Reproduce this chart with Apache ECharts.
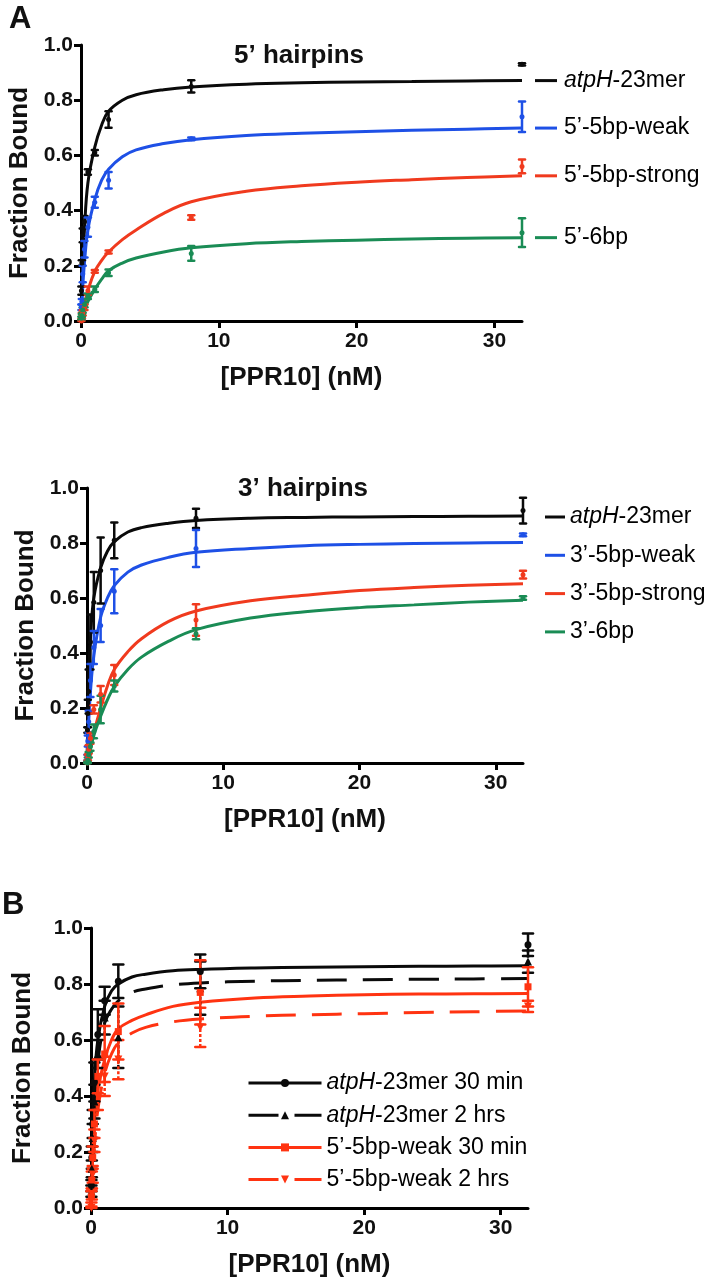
<!DOCTYPE html>
<html><head><meta charset="utf-8">
<script src="https://cdn.jsdelivr.net/npm/echarts@6/dist/echarts.min.js"></script>
<style>html,body{margin:0;padding:0;background:#fff}#c{width:714px;height:1281px}</style>
</head><body><div id="c"></div>
<script>
// ---------- data ----------
const conc = [0.03, 0.06, 0.125, 0.25, 0.5, 1, 2, 8, 32];           // [PPR10] nM (measured points)
const fitX = [0, 0.125, 0.25, 0.5, 1, 1.5, 2, 3, 4, 6, 8, 12, 16, 20, 24, 28, 32]; // fitted-curve sample x
const xTicks = [0, 10, 20, 30];
const yTicks = [0, 0.2, 0.4, 0.6, 0.8, 1.0];

// Panel A top: 5' hairpins (means, SD)
const a5_atpH      = [0.11, 0.21, 0.31, 0.36, 0.54, 0.61, 0.73, 0.85, 0.93];
const a5_atpH_err  = [0.015, 0.01, 0.025, 0.02, 0.01, 0.01, 0.03, 0.022, 0.004];
const a5_weak      = [0.05, 0.07, 0.17, 0.26, 0.34, 0.43, 0.51, 0.66, 0.74];
const a5_weak_err  = [0.01, 0.01, 0.03, 0.03, 0.035, 0.02, 0.03, 0.005, 0.055];
const a5_strong    = [0.0, 0.02, 0.03, 0.05, 0.11, 0.18, 0.25, 0.375, 0.56];
const a5_strong_err= [0.005, 0.01, 0.01, 0.01, 0.015, 0.005, 0.005, 0.008, 0.025];
const a5_6bp       = [0.01, 0.02, 0.04, 0.06, 0.09, 0.115, 0.175, 0.245, 0.32];
const a5_6bp_err   = [0.005, 0.005, 0.01, 0.01, 0.01, 0.01, 0.012, 0.027, 0.052];
const a5_fit_atpH  = [0, 0.19, 0.33, 0.50, 0.63, 0.71, 0.76, 0.80, 0.82, 0.838, 0.848, 0.858, 0.863, 0.866, 0.868, 0.870, 0.871];
const a5_fit_weak  = [0, 0.12, 0.21, 0.33, 0.44, 0.51, 0.55, 0.595, 0.62, 0.643, 0.657, 0.672, 0.68, 0.686, 0.691, 0.695, 0.699];
const a5_fit_strong= [0, 0.03, 0.06, 0.11, 0.18, 0.22, 0.25, 0.295, 0.33, 0.39, 0.432, 0.47, 0.49, 0.503, 0.512, 0.52, 0.526];
const a5_fit_6bp   = [0, 0.02, 0.035, 0.07, 0.115, 0.152, 0.182, 0.21, 0.228, 0.25, 0.265, 0.28, 0.288, 0.293, 0.297, 0.30, 0.302];

// Panel A bottom: 3' hairpins
const a3_atpH      = [0.12, 0.18, 0.26, 0.44, 0.585, 0.70, 0.81, 0.89, 0.918];
const a3_atpH_err  = [0.01, 0.05, 0.08, 0.10, 0.11, 0.12, 0.065, 0.035, 0.047];
const a3_weak      = [0.02, 0.08, 0.15, 0.30, 0.42, 0.50, 0.625, 0.78, 0.83];
const a3_weak_err  = [0.01, 0.02, 0.04, 0.06, 0.06, 0.06, 0.08, 0.067, 0.005];
const a3_strong    = [0.0, 0.02, 0.05, 0.09, 0.195, 0.25, 0.32, 0.52, 0.685];
const a3_strong_err= [0.005, 0.01, 0.015, 0.02, 0.015, 0.03, 0.036, 0.057, 0.014];
const a3_6bp       = [0.0, 0.01, 0.03, 0.06, 0.115, 0.195, 0.28, 0.47, 0.60];
const a3_6bp_err   = [0.005, 0.01, 0.01, 0.015, 0.025, 0.05, 0.02, 0.02, 0.006];
const a3_fit_atpH  = [0, 0.30, 0.45, 0.60, 0.71, 0.77, 0.805, 0.84, 0.856, 0.872, 0.882, 0.89, 0.893, 0.895, 0.896, 0.897, 0.898];
const a3_fit_weak  = [0, 0.15, 0.256, 0.39, 0.53, 0.60, 0.645, 0.694, 0.72, 0.748, 0.766, 0.78, 0.79, 0.795, 0.798, 0.80, 0.802];
const a3_fit_strong= [0, 0.03, 0.06, 0.11, 0.20, 0.28, 0.34, 0.405, 0.452, 0.515, 0.553, 0.59, 0.61, 0.627, 0.638, 0.646, 0.652];
const a3_fit_6bp   = [0, 0.02, 0.05, 0.10, 0.17, 0.23, 0.278, 0.34, 0.385, 0.443, 0.485, 0.527, 0.55, 0.565, 0.575, 0.585, 0.592];

// Panel B: time course
const b_atpH30     = [0.08, 0.18, 0.30, 0.45, 0.62, 0.74, 0.81, 0.845, 0.94];
const b_atpH30_err = [0.02, 0.04, 0.05, 0.07, 0.09, 0.05, 0.06, 0.06, 0.04];
const b_atpH2h     = [0.06, 0.14, 0.25, 0.38, 0.55, 0.68, 0.61, 0.785, 0.88];
const b_atpH2h_err = [0.02, 0.03, 0.05, 0.06, 0.05, 0.06, 0.11, 0.095, 0.04];
const b_weak30     = [0.04, 0.10, 0.18, 0.30, 0.47, 0.55, 0.63, 0.77, 0.79];
const b_weak30_err = [0.02, 0.03, 0.04, 0.05, 0.06, 0.10, 0.10, 0.115, 0.07];
const b_weak2h     = [0.0, 0.05, 0.12, 0.24, 0.40, 0.47, 0.53, 0.645, 0.72];
const b_weak2h_err = [0.005, 0.02, 0.03, 0.04, 0.05, 0.07, 0.07, 0.07, 0.02];
const b_fit_atpH30 = [0, 0.30, 0.45, 0.60, 0.72, 0.775, 0.80, 0.825, 0.835, 0.847, 0.852, 0.857, 0.86, 0.862, 0.863, 0.864, 0.865];
const b_fit_atpH2h = [0, 0.22, 0.35, 0.52, 0.66, 0.71, 0.74, 0.77, 0.782, 0.797, 0.804, 0.81, 0.813, 0.815, 0.817, 0.818, 0.82];
const b_fit_weak30 = [0, 0.18, 0.30, 0.42, 0.53, 0.60, 0.64, 0.67, 0.69, 0.72, 0.735, 0.75, 0.757, 0.762, 0.764, 0.765, 0.766];
const b_fit_weak2h = [0, 0.13, 0.22, 0.35, 0.48, 0.55, 0.59, 0.625, 0.645, 0.665, 0.675, 0.685, 0.69, 0.694, 0.698, 0.701, 0.704];

const names5 = ['atpH-23mer', '5’-5bp-weak', '5’-5bp-strong', '5’-6bp'];
const names3 = ['atpH-23mer ', '3’-5bp-weak', '3’-5bp-strong', '3’-6bp'];
const namesB = ['atpH-23mer 30 min', 'atpH-23mer 2 hrs', '5’-5bp-weak 30 min', '5’-5bp-weak 2 hrs'];

// ---------- styling ----------
const FF = 'Liberation Sans, Arial, Helvetica, sans-serif';
const BLACK = '#0a0a0a', BLUE = '#1e50e6', RED = '#f03a1e', GREEN = '#1a8c55', REDB = '#ff3311';
const DASH = [30, 16];
const richName = s => s.replace('atpH', '{i|atpH}');
const italicRich = { i: { fontStyle: 'italic', fontSize: 23, fontFamily: FF, color: '#000' } };

function xAxisDef(gi) {
  return {
    type: 'value', gridIndex: gi, min: 0, max: 32, interval: 10,
    name: '[PPR10] (nM)', nameLocation: 'middle', nameGap: 44,
    nameTextStyle: { fontSize: 26, fontWeight: 'bold', fontFamily: FF, color: '#111' },
    axisLine: { show: true, lineStyle: { color: '#000', width: 3 } },
    axisTick: { show: true, length: 7, lineStyle: { color: '#000', width: 3 }, customValues: xTicks },
    axisLabel: { margin: 10, fontSize: 21, fontWeight: 'bold', fontFamily: FF, color: '#111', customValues: xTicks },
    splitLine: { show: false }
  };
}
function yAxisDef(gi, gap) {
  return {
    type: 'value', gridIndex: gi, min: 0, max: 1, interval: 0.2,
    name: 'Fraction Bound', nameLocation: 'middle', nameGap: gap, nameRotate: 90,
    nameTextStyle: { fontSize: 26, fontWeight: 'bold', fontFamily: FF, color: '#111' },
    axisLine: { show: true, lineStyle: { color: '#000', width: 3 } },
    axisTick: { show: true, length: 7, lineStyle: { color: '#000', width: 3 }, customValues: yTicks },
    axisLabel: { margin: 8, fontSize: 21, fontWeight: 'bold', fontFamily: FF, color: '#111',
      customValues: yTicks, formatter: v => v.toFixed(1) },
    splitLine: { show: false }
  };
}

function curve(gi, name, ys, color, opts) {
  opts = opts || {};
  const s = {
    type: 'line', name: name, xAxisIndex: gi, yAxisIndex: gi,
    data: fitX.map((x, i) => [x, ys[i]]),
    smooth: 0.4,
    symbol: opts.symbol || 'none', showSymbol: false, symbolRotate: opts.rotate || 0,
    lineStyle: { color: color, width: 3, type: opts.dash || 'solid' },
    itemStyle: { color: color }, z: 3, silent: true
  };
  if (opts.endLabel) {
    s.endLabel = {
      show: true, distance: 13, color: '#000', fontSize: 23, fontFamily: FF,
      formatter: p => '{l|}{s|}' + richName(p.seriesName.trim()),
      rich: Object.assign({ l: { width: 22, height: 3, backgroundColor: color }, s: { width: 7 } }, italicRich)
    };
  }
  return s;
}
function points(gi, means, color, symbol, size, rotate) {
  return {
    type: 'scatter', xAxisIndex: gi, yAxisIndex: gi,
    data: conc.map((x, i) => [x, means[i]]),
    symbol: symbol, symbolSize: size, symbolRotate: rotate || 0,
    itemStyle: { color: color, opacity: 1 }, z: 5, silent: true
  };
}
function errbars(gi, means, errs, color, cap, dashed) {
  return {
    type: 'custom', xAxisIndex: gi, yAxisIndex: gi, z: 4, silent: true,
    data: conc.map((x, i) => [x, Math.max(0, means[i] - errs[i]), means[i] + errs[i]]),
    encode: { x: 0, y: [1, 2] },
    renderItem: function (params, api) {
      const x = api.value(0);
      const lo = api.coord([x, api.value(1)]);
      const hi = api.coord([x, api.value(2)]);
      const st = { stroke: color, lineWidth: 2.5, lineDash: dashed ? [3, 2] : null };
      const cs = { stroke: color, lineWidth: 2.5, lineCap: 'round' };
      return { type: 'group', children: [
        { type: 'line', shape: { x1: lo[0], y1: lo[1], x2: hi[0], y2: hi[1] }, style: st },
        { type: 'line', shape: { x1: lo[0] - cap, y1: lo[1], x2: lo[0] + cap, y2: lo[1] }, style: cs },
        { type: 'line', shape: { x1: hi[0] - cap, y1: hi[1], x2: hi[0] + cap, y2: hi[1] }, style: cs }
      ] };
    }
  };
}

const series = [];
// top panel (grid 0)
[[a5_fit_atpH, a5_atpH, a5_atpH_err, BLACK], [a5_fit_weak, a5_weak, a5_weak_err, BLUE],
 [a5_fit_strong, a5_strong, a5_strong_err, RED], [a5_fit_6bp, a5_6bp, a5_6bp_err, GREEN]].forEach((d, k) => {
  series.push(curve(0, names5[k], d[0], d[3], { endLabel: true }));
  series.push(errbars(0, d[1], d[2], d[3], 3, false));
  series.push(points(0, d[1], d[3], 'circle', 5));
});
// middle panel (grid 1)
[[a3_fit_atpH, a3_atpH, a3_atpH_err, BLACK], [a3_fit_weak, a3_weak, a3_weak_err, BLUE],
 [a3_fit_strong, a3_strong, a3_strong_err, RED], [a3_fit_6bp, a3_6bp, a3_6bp_err, GREEN]].forEach((d, k) => {
  series.push(curve(1, names3[k], d[0], d[3]));
  series.push(errbars(1, d[1], d[2], d[3], 3, false));
  series.push(points(1, d[1], d[3], 'circle', 5));
});
// panel B (grid 2)
const bDefs = [
  [b_fit_atpH30, b_atpH30, b_atpH30_err, BLACK, 'solid', 'circle', 7, 0, false],
  [b_fit_atpH2h, b_atpH2h, b_atpH2h_err, BLACK, DASH, 'triangle', 8, 0, true],
  [b_fit_weak30, b_weak30, b_weak30_err, REDB, 'solid', 'rect', 7, 0, false],
  [b_fit_weak2h, b_weak2h, b_weak2h_err, REDB, DASH, 'triangle', 8, 180, true]
];
bDefs.forEach((d, k) => {
  series.push(curve(2, namesB[k], d[0], d[3], { dash: d[4], symbol: d[5], rotate: d[7] }));
  series.push(errbars(2, d[1], d[2], d[3], 5, d[8]));
  series.push(points(2, d[1], d[3], d[5], d[6], d[7]));
});

const titleStyle = (size) => ({ fontSize: size, fontWeight: 'bold', fontFamily: FF, color: '#111' });

const option = {
  animation: false,
  backgroundColor: '#fff',
  title: [
    { text: 'A', left: 9, top: 4, padding: 0, textStyle: titleStyle(31) },
    { text: '5’ hairpins', left: 299, top: 43, padding: 0, textAlign: 'center', textStyle: titleStyle(26) },
    { text: '3’ hairpins', left: 303, top: 476, padding: 0, textAlign: 'center', textStyle: titleStyle(26) },
    { text: 'B', left: 2, top: 890, padding: 0, textStyle: titleStyle(31) }
  ],
  grid: [
    { left: 81, top: 45, width: 441, height: 276, outerBoundsMode: 'none' },
    { left: 87, top: 488, width: 436, height: 275, outerBoundsMode: 'none' },
    { left: 91, top: 928, width: 437, height: 280, outerBoundsMode: 'none' }
  ],
  xAxis: [xAxisDef(0), xAxisDef(1), xAxisDef(2)],
  yAxis: [yAxisDef(0, 43), yAxisDef(1, 47), yAxisDef(2, 55)],
  legend: [
    { data: names3, orient: 'vertical', left: 545, top: 505, padding: 0,
      icon: 'rect', itemWidth: 20, itemHeight: 3, itemGap: 14.3, selectedMode: false,
      formatter: n => richName(n.trim()),
      textStyle: { fontSize: 23, lineHeight: 24, fontFamily: FF, color: '#000', rich: italicRich } },
    { data: namesB.map((n, k) => ({ name: n,
        lineStyle: { width: 3, type: bDefs[k][4], color: bDefs[k][3] },
        itemStyle: { color: bDefs[k][3] } })),
      orient: 'vertical', left: 247, top: 1071, padding: 0,
      itemWidth: 73, itemHeight: 10, itemGap: 8.2, selectedMode: false,
      lineStyle: { width: 3 },
      formatter: n => richName(n),
      textStyle: { fontSize: 23, lineHeight: 24, fontFamily: FF, color: '#000', rich: italicRich } }
  ],
  series: series
};

const chart = echarts.init(document.getElementById('c'), null, { renderer: 'canvas' });
chart.setOption(option);
</script>
</body></html>
